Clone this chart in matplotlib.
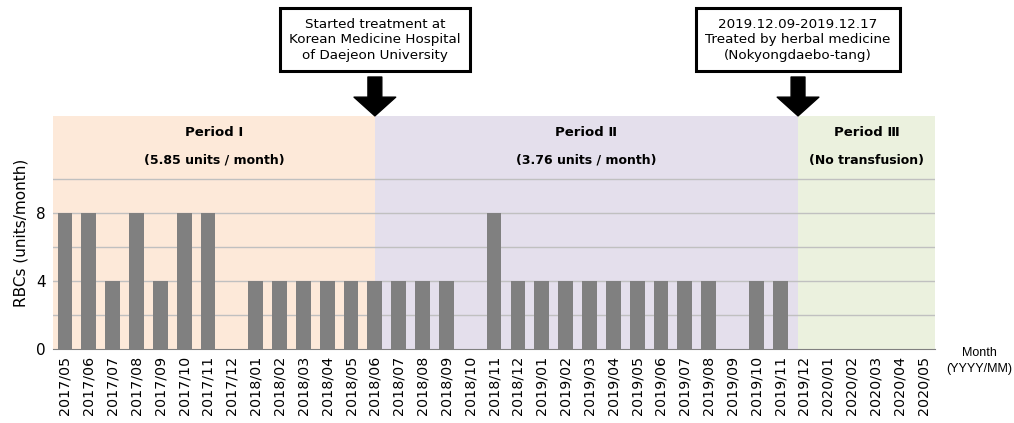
import matplotlib.pyplot as plt
import numpy as np

months = ['2017/05', '2017/06', '2017/07', '2017/08', '2017/09', '2017/10', '2017/11', '2017/12',
          '2018/01', '2018/02', '2018/03', '2018/04', '2018/05', '2018/06', '2018/07', '2018/08',
          '2018/09', '2018/10', '2018/11', '2018/12', '2019/01', '2019/02', '2019/03', '2019/04',
          '2019/05', '2019/06', '2019/07', '2019/08', '2019/09', '2019/10', '2019/11', '2019/12',
          '2020/01', '2020/02', '2020/03', '2020/04', '2020/05']
rbcs = [8, 8, 4, 8, 4, 8, 8, 0,
        4, 4, 4, 4, 4, 4, 4, 4,
        4, 0, 8, 4, 4, 4, 4, 4,
        4, 4, 4, 4, 0, 4, 4, 0,
        0, 0, 0, 0, 0]

period_names = ['Period \u2160', 'Period \u2161', 'Period \u2162']
period_notes = ['(5.85 units / month)', '(3.76 units / month)', '(No transfusion)']
period_edges = [-0.5, 13, 30.75, 36.5]
period_colors = ['#fde9d9', '#e4dfec', '#ebf1de']

events = [13, 30.75]
event_texts = ['Started treatment at\nKorean Medicine Hospital\nof Daejeon University',
               '2019.12.09-2019.12.17\nTreated by herbal medicine\n(Nokyongdaebo-tang)']

fig = plt.figure(figsize=(10.14, 4.23), dpi=100)
ax = fig.add_axes([0.0523, 0.175, 0.8699, 0.551])

x = np.arange(len(months))
for i in range(3):
    ax.axvspan(period_edges[i], period_edges[i + 1], color=period_colors[i], zorder=0, lw=0)
    mid = (period_edges[i] + period_edges[i + 1]) / 2
    ax.text(mid, 12.7, period_names[i], ha='center', va='center', fontsize=9.5, fontweight='bold')
    ax.text(mid, 11.1, period_notes[i], ha='center', va='center', fontsize=9, fontweight='bold')

for g in [2, 4, 6, 8, 10]:
    ax.axhline(g, color='#c0c0c0', lw=1, zorder=1)

ax.bar(x, rbcs, width=0.62, color='#808080', zorder=2)

ax.set_xlim(-0.5, 36.5)
ax.set_ylim(0, 13.7)
ax.set_xticks(x)
ax.set_xticklabels(months, rotation=90, fontsize=10.3)
ax.set_yticks([0, 4, 8])
ax.tick_params(length=0, pad=5)
ax.tick_params(axis='y', labelsize=11)
for s in ['top', 'right', 'left']:
    ax.spines[s].set_visible(False)
ax.spines['bottom'].set_color('#808080')
ax.set_ylabel('RBCs (units/month)', fontsize=11, labelpad=6)

fig.text(0.966, 0.147, 'Month\n(YYYY/MM)', ha='center', va='center', fontsize=9,
         family='Liberation Sans', linespacing=1.4)

for ev, txt in zip(events, event_texts):
    ax.annotate('', xy=(ev, 1.0), xycoords=('data', 'axes fraction'),
                xytext=(0, 28), textcoords='offset points',
                arrowprops=dict(arrowstyle='simple,head_length=1.35,head_width=3.0,tail_width=1.0',
                                mutation_scale=10, color='black', shrinkA=0, shrinkB=0))
    ax.annotate(txt, xy=(ev, 1.0), xycoords=('data', 'axes fraction'),
                xytext=(0, 55), textcoords='offset points', ha='center', va='center',
                fontsize=9.7, linespacing=1.25,
                bbox=dict(boxstyle='square,pad=0.7', fc='white', ec='black', lw=2.2))

fig.savefig('out.png', dpi=100)
